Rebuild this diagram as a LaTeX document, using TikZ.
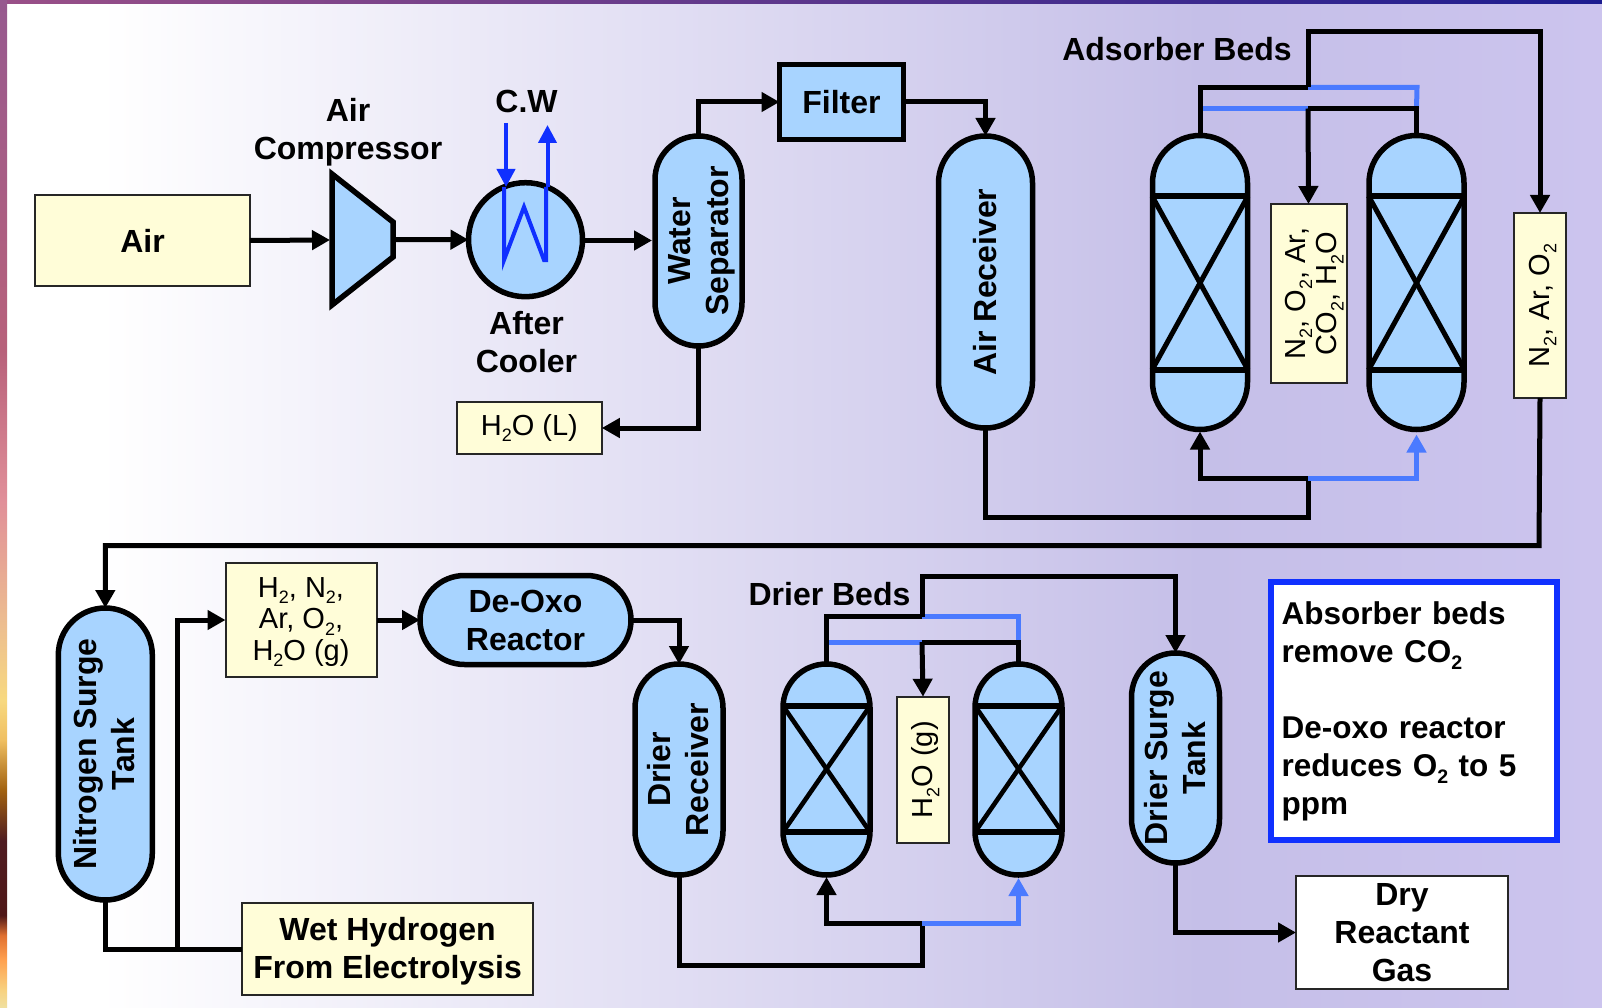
\documentclass[tikz,border=0pt]{standalone}
\usepackage{fontspec}
\usepackage{graphicx}
\setmainfont{Liberation Sans}
\usetikzlibrary{arrows.meta,calc}
\definecolor{vessel}{HTML}{A8D4FF}
\definecolor{cream}{HTML}{FFFDD8}
\definecolor{bgend}{HTML}{C5BFE8}
\definecolor{bgright}{HTML}{CCC4EE}
\definecolor{deepblue}{HTML}{1030FF}
\definecolor{pipeblue}{HTML}{4A7AFF}
\definecolor{topa}{HTML}{9A5088}
\definecolor{topb}{HTML}{8A4A8A}
\definecolor{topc}{HTML}{1C1C90}
\pgfdeclareverticalshading{leftstrip}{100bp}{
 rgb(0bp)=(0.94,0.88,0.63);
 rgb(25bp)=(0.94,0.88,0.63);
 rgb(25.9bp)=(0.97,0.82,0.50);
 rgb(27.4bp)=(1.0,0.63,0.31);
 rgb(28.6bp)=(0.88,0.44,0.19);
 rgb(29.6bp)=(0.31,0.09,0.09);
 rgb(33.3bp)=(0.31,0.11,0.13);
 rgb(35.8bp)=(0.63,0.38,0.06);
 rgb(38.3bp)=(0.94,0.75,0.38);
 rgb(40.3bp)=(0.97,0.85,0.50);
 rgb(43.8bp)=(0.93,0.75,0.56);
 rgb(50.2bp)=(0.88,0.56,0.60);
 rgb(57.6bp)=(0.72,0.38,0.48);
 rgb(75bp)=(0.59,0.35,0.56);
 rgb(100bp)=(0.59,0.35,0.56)}
\newcommand\vtxt[1]{\hspace*{6pt}\rotatebox{90}{\begin{tabular}{@{}c@{}}#1\end{tabular}}}
\newcommand\sbs[1]{\raisebox{-0.24em}{\scalebox{0.62}{#1}}}
\tikzset{
 boldtxt/.style={font=\fontsize{32}{38}\selectfont\bfseries},
 notetxt/.style={font=\fontsize{31.5}{38}\selectfont\bfseries},
 regtxt/.style={font=\fontsize{29}{31.5}\selectfont},
 lbltxt/.style={boldtxt,align=center,inner sep=0pt},
 vesselbox/.style={draw=black,line width=5.5pt,fill=vessel,rectangle,inner sep=0pt,outer sep=0pt,boldtxt,align=center},
 capsule/.style n args={3}{vesselbox,minimum width=#1,minimum height=#2,rounded corners=#3},
 creambox/.style={draw=black!85,line width=2pt,fill=cream,rectangle,inner sep=0pt,outer sep=0pt,align=center},
 pipe/.style={draw=black,line width=5pt},
 bluepipe/.style={draw=pipeblue,line width=5pt},
 flow/.style={pipe,-{Triangle[length=18pt,width=19pt]}},
 blueflow/.style={bluepipe,-{Triangle[length=18pt,width=19pt]}},
 cwflow/.style={draw=deepblue,line width=4pt,-{Triangle[length=18pt,width=18pt]}},
 bedline/.style={draw=black,line width=5.5pt},
 gapped/.style={shorten >=3pt},
}
\begin{document}
\begin{tikzpicture}[x=1pt,y=-1pt]
\useasboundingbox (0,0) rectangle (1602,1008);
% background
\fill[white] (0,0) rectangle (100,1008);
\fill[left color=white,right color=bgend] (100,0) rectangle (1200,1008);
\fill[left color=bgend,right color=bgright] (1200,0) rectangle (1602,1008);
\fill[left color=topa,middle color=topb,right color=topc] (0,0) rectangle (1602,4);
\shade[shading=leftstrip] (0,0) rectangle (7,1008);

% equipment
\node[creambox,minimum width=215,minimum height=90,boldtxt] (air) at (142.5,240.5) {Air};
\draw[line width=5.5pt,fill=vessel,line join=miter] (332,174) -- (393,222) -- (393,257) -- (332,305) -- cycle;
\coordinate (compIn) at (330,240);
\coordinate (compOut) at (393,239.5);
\node[circle,draw=black,line width=5.5pt,fill=vessel,minimum size=114,inner sep=0pt,outer sep=0pt] (cooler) at (525.5,239.7) {};
\node[capsule={87}{210}{43.5}] (ws) at (698.5,241) {\vtxt{Water\\Separator}};
\node[creambox,minimum width=145,minimum height=52,regtxt] (h2ol) at (529.3,428) {H\sbs{2}O (L)};
\node[vesselbox,minimum width=124,minimum height=75] (filter) at (841.5,102) {Filter};
\node[capsule={94}{292}{47}] (recv) at (985.5,282) {\vtxt{Air Receiver}};
\node[capsule={95}{294}{47.5}] (bedA) at (1200,282.5) {};
\node[capsule={95}{294}{47.5}] (bedB) at (1416.5,282.5) {};
\node[creambox,minimum width=76,minimum height=179,regtxt] (waste) at (1308.5,293.5) {\hspace*{6pt}\vtxt{N\sbs{2}, O\sbs{2}, Ar,\\CO\sbs{2}, H\sbs{2}O}};
\node[creambox,minimum width=52,minimum height=185,regtxt] (nitro) at (1540,305.5) {\vtxt{N\sbs{2}, Ar, O\sbs{2}}};

\node[capsule={94}{292}{47}] (nst) at (105.3,754) {\vtxt{Nitrogen Surge\\Tank}};
\node[creambox,minimum width=151,minimum height=114,regtxt] (mix) at (301,620) {\rule{0pt}{24pt}H\sbs{2}, N\sbs{2},\\Ar, O\sbs{2},\\H\sbs{2}O (g)};
\node[capsule={211}{89}{44.5}] (deoxo) at (525.5,620) {De-Oxo\\Reactor};
\node[creambox,minimum width=291,minimum height=92,boldtxt] (wet) at (387.6,949) {\rule{0pt}{28pt}Wet Hydrogen\\From Electrolysis};
\node[capsule={88}{211}{44}] (dr) at (679,769.5) {\vtxt{Drier\\Receiver}};
\node[capsule={87}{211}{43.5}] (bedC) at (826.5,769.5) {};
\node[capsule={87}{211}{43.5}] (bedD) at (1018.5,769.5) {};
\node[creambox,minimum width=52,minimum height=146,regtxt] (h2og) at (923,769.7) {\vtxt{H\sbs{2}O (g)}};
\node[capsule={88}{210}{44}] (dst) at (1175.5,758) {\vtxt{Drier Surge\\Tank}};
\node[creambox,minimum width=212,minimum height=113,boldtxt,fill=white] (dry) at (1402,932.5) {Dry\\Reactant\\Gas};
\node[rectangle,draw=deepblue,line width=6pt,fill=white,inner xsep=10.5pt,inner ysep=0pt,text width=265pt,minimum height=258,align=left,notetxt,outer sep=0pt] (note) at (1414,711) {Absorber beds\\remove CO\sbs{2}\\[38pt]De-oxo reactor\\reduces O\sbs{2} to 5\\ppm};

% bed internals
\foreach \xa/\xb/\ya/\yb/\lw in {1152/1248/196/370/5,1368.5/1464.5/196/370/5,783/870/706/832/4.6,975/1062/706/832/4.6}{
 \draw[bedline] (\xa,\ya) -- (\xb,\ya);
 \draw[bedline] (\xa,\yb) -- (\xb,\yb);
 \draw[draw=black,line width=\lw pt] (\xa,\ya) -- (\xb,\yb);
 \draw[draw=black,line width=\lw pt] (\xb,\ya) -- (\xa,\yb);
}

% labels
\node[lbltxt] (lblcomp) at (348,132.5) {Air\\Compressor};
\node[lbltxt] (lblcw) at (526.5,101.7) {C.W};
\node[lbltxt] (lblcool) at (526.5,342.5) {After\\Cooler};
\node[lbltxt] (lblads) at (1177,49) {Adsorber Beds};
\node[lbltxt] (lbldry) at (829.5,594) {Drier Beds};

% junctions, adsorber section
\coordinate (aBot) at (1308,517);
\coordinate (aMid) at (1308,478);
\coordinate (aTop) at (1308,87.5);
\coordinate (aHi) at (1308,31.5);
\coordinate (aIn) at (1308,108.5);
\coordinate (aRowR) at (1417,87.5);
\coordinate (aInL) at (1200,108.5);
\coordinate (aInR) at (1416.5,108.5);
\coordinate (aRet) at (1539,545.7);
% junctions, drier section
\coordinate (dBot) at (922,965);
\coordinate (dMid) at (922,923);
\coordinate (dTop) at (922,616.7);
\coordinate (dHi) at (922,576.7);
\coordinate (dIn) at (922,642);
\coordinate (dRowR) at (1018.5,616.7);
\coordinate (dInL) at (826.5,642);
\coordinate (dInR) at (1018.5,642);
\coordinate (wetJ) at (177.5,949);

% connectors, upper row
\draw[flow] (air.east) -- (compIn);
\draw[flow] (compOut) -- (cooler.west);
\draw[flow,gapped] (cooler.east |- 0,240.5) -- (ws.west |- 0,240.5);
\draw[flow] (ws.north) |- (filter.west);
\draw[flow] (ws.south) |- (h2ol.east);
\draw[flow] (filter.east) -| (recv.north);
\draw[pipe] (recv.south) |- (aBot) -- (aMid);
\draw[blueflow,shorten >=5pt] (aMid) -| (bedB.south);
\draw[flow,shorten >=2pt] (aMid) -| (bedA.south);
% adsorber top
\draw[bluepipe] (aTop) -- (aRowR) -- (aInR);
\draw[bluepipe] (aInL) -- (aIn);
\draw[pipe] (bedA.north) |- (aTop);
\draw[flow] (aTop) -- (aHi) -| (nitro.north);
\draw[pipe] (bedB.north) -- (aInR) -- (aIn);
\draw[flow] (aIn) -- (waste.north);
\draw[flow] (nitro.south) -- (aRet) -| (nst.north);
% lower row
\draw[pipe] (nst.south) |- (wetJ);
\draw[flow] (wet.west) -- (wetJ) |- (mix.west);
\draw[flow] (mix.east) -- (deoxo.west);
\draw[flow] (deoxo.east) -| (dr.north);
\draw[pipe] (dr.south) |- (dBot) -- (dMid);
\draw[blueflow,shorten >=3pt] (dMid) -| (bedD.south);
\draw[flow,shorten >=2pt] (dMid) -| (bedC.south);
\draw[bluepipe] (dTop) -- (dRowR) -- (dInR);
\draw[bluepipe] (dInL) -- (dIn);
\draw[pipe] (bedC.north) |- (dTop);
\draw[flow] (dTop) -- (dHi) -| (dst.north);
\draw[pipe] (bedD.north) -- (dInR) -- (dIn);
\draw[flow] (dIn) -- (h2og.north);
\draw[flow] (dst.south) |- (dry.west);

% cooling water
\coordinate (cwIn) at (506,123);
\coordinate (cwInEnd) at (506,187);
\coordinate (cwOut) at (547.5,125);
\coordinate (cwOutStart) at (547.5,187);
\draw[cwflow] (cwIn) -- (cwInEnd);
\draw[draw=deepblue,line width=4pt,line join=miter] (504,187) -- (504,260) -- (524,207) -- (544,260) -- (546,260) -- (546,187);
\draw[cwflow] (cwOutStart) -- (cwOut);
\end{tikzpicture}
\end{document}
